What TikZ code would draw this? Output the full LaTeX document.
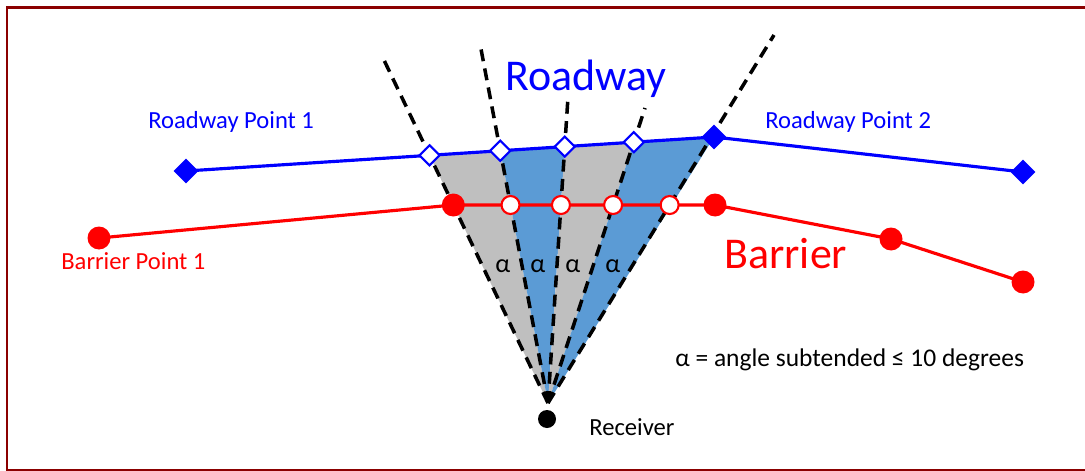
\documentclass[tikz,border=0pt]{standalone}
\usepackage{fontspec}
\setmainfont{Carlito}
\usepackage{xcolor}
\usetikzlibrary{shapes.geometric, positioning}
\definecolor{wedgegray}{HTML}{BFBFBF}
\definecolor{wedgeblue}{HTML}{5B9BD5}
\definecolor{framered}{HTML}{8B0000}

\begin{document}
\begin{tikzpicture}[
  x=0.02cm, y=-0.02cm,
  rdnode/.style={diamond, minimum size=0.42cm, draw=blue, line width=1.2pt,
    fill=white, inner sep=0pt},
  rdend/.style={diamond, minimum size=0.5cm, fill=blue, inner sep=0pt},
  brnode/.style={circle, minimum size=0.36cm, draw=red, line width=1.2pt,
    fill=white, inner sep=0pt},
  brend/.style={circle, minimum size=0.46cm, fill=red, inner sep=0pt},
  ray/.style={dash pattern=on 6.8pt off 4.2pt, line width=2pt},
  road/.style={blue, line width=1.8pt},
  barrier/.style={red, line width=1.8pt},
  lbl/.style={font=\fontsize{14}{17}\selectfont, inner sep=0pt, anchor=base west},
  biglbl/.style={font=\fontsize{25}{30}\selectfont, inner sep=0pt, anchor=base west}
]
\useasboundingbox (0,0) rectangle (1085,470);

% ---- Frame ----
\draw[framered, line width=1.2pt] (1085,7.5) -- (7,7.5) -- (7,470) -- (1085,470);

% ---- Geometry ----
\coordinate (apex) at (548,403);
\coordinate (t1) at (383,58);
\coordinate (t2) at (481,49);
\coordinate (t3) at (568,97);
\coordinate (t4) at (645,108);
\coordinate (t5) at (774,35);

\coordinate (rd1) at (186,171);
\coordinate (rd2) at (714,137);
\coordinate (rd3) at (1023,172);

\coordinate (bl) at (0,205);
\coordinate (br) at (1000,205);
\coordinate (bp1) at (99,238);
\coordinate (bp2) at (715,205);
\coordinate (bp3) at (891,239);
\coordinate (bp4) at (1023,282);

\foreach \i in {1,...,5} {
  \coordinate (r\i) at (intersection cs: first line={(apex)--(t\i)}, second line={(rd1)--(rd2)});
  \coordinate (b\i) at (intersection cs: first line={(apex)--(t\i)}, second line={(bl)--(br)});
}

% ---- Wedges ----
\fill[wedgegray] (apex) -- (r1) -- (r2) -- cycle;
\fill[wedgeblue] (apex) -- (r2) -- (r3) -- cycle;
\fill[wedgegray] (apex) -- (r3) -- (r4) -- cycle;
\fill[wedgeblue] (apex) -- (r4) -- (rd2) -- cycle;

% ---- Sight lines ----
\foreach \i in {1,...,5}
  \draw[ray] (apex) -- (t\i);

% ---- Roadway and barrier ----
\draw[road] (rd1) -- (rd2) -- (rd3);
\draw[barrier] (bp1) -- (b1) -- (bp2) -- (bp3) -- (bp4);

\node[rdend] (rdp1) at (rd1) {};
\node[rdend] (rdp2) at (rd2) {};
\node[rdend] (rdp3) at (rd3) {};
\foreach \i in {1,...,4}
  \node[rdnode] (rdx\i) at (r\i) {};

\node[brend] (brp1) at (bp1) {};
\node[brend] (brp2) at (b1) {};
\node[brend] (brp3) at (bp2) {};
\node[brend] (brp4) at (bp3) {};
\node[brend] (brp5) at (bp4) {};
\foreach \i in {2,...,5}
  \node[brnode] (brx\i) at (b\i) {};

% ---- Receiver ----
\node[circle, fill=black, minimum size=0.36cm, inner sep=0pt] (rcv) at (547,419) {};
\node[lbl] (rcvlbl) at (589,435) {Receiver};

% ---- Labels ----
\node[biglbl, blue] (roadlbl) at (505,90) {Roadway};
\node[biglbl, red] (barlbl) at (724,268) {Barrier};
\node[lbl, blue] (rdlbl1) at (148,128) {Roadway Point 1};
\node[lbl, blue] (rdlbl2) at (765,128) {Roadway Point 2};
\node[lbl, red] (brlbl1) at (61,269) {Barrier Point 1};

\foreach \x/\n in {495/1, 530/2, 565/3, 605/4}
  \node[lbl, font=\fontsize{15}{18}\selectfont] (alpha\n) at (\x,272) {α};

\node[lbl, font=\fontsize{14.5}{17}\selectfont] (legend) at (675,366) {α = angle subtended ≤ 10 degrees};

\end{tikzpicture}
\end{document}
